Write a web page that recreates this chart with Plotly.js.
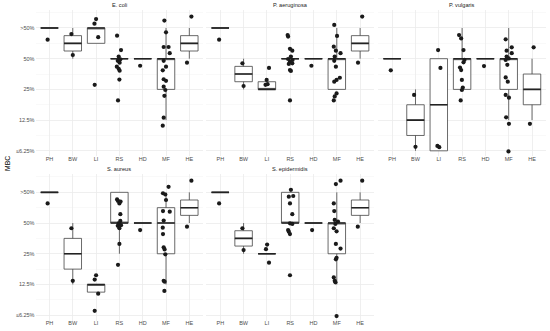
<!DOCTYPE html>
<html>
<head>
<meta charset="utf-8">
<script src="https://cdn.plot.ly/plotly-3.0.1.min.js"></script>
<style>html,body{margin:0;padding:0;background:#fff;}#chart{width:550px;height:331px;}</style>
</head>
<body>
<div id="chart"></div>
<script>
// ---------- data ----------
const categories = ['PH','BW','LI','RS','HD','MF','HE'];
const panelNames = ['E. coli','P. aeruginosa','P. vulgaris','S. aureus','S. epidermidis'];
const levelValues = [1,2,3,4,5];
const levelLabels = ['\u22646.25%','12.5%','25%','50%','>50%'];

// Observed (jittered) MBC points, one list per category (PH, BW, LI, RS, HD, MF, HE)
const ecoli_y = [
  [4.62],
  [4.80,4.12],
  [5.29,5.14,4.70,3.15],
  [4.75,4.28,4.07,3.98,3.93,3.87,3.74,3.67,3.61,3.32,2.64],
  [3.77],
  [5.24,4.86,4.38,4.38,4.18,3.93,3.74,3.62,3.33,3.28,3.09,2.98,2.79,2.08,1.82],
  [5.37,3.87]
];
const ecoli_dx = [
  [-0.08],
  [-0.06,0.00],
  [0.00,-0.07,0.09,-0.06],
  [-0.10,0.07,-0.03,0.04,-0.07,0.01,-0.11,-0.03,0.01,0.00,-0.06],
  [-0.11],
  [-0.07,0.00,-0.10,0.11,0.16,-0.10,0.00,-0.14,-0.10,0.00,-0.10,-0.03,-0.07,-0.10,-0.14],
  [0.09,-0.10]
];
const paer_y = [
  [4.62],
  [3.85,3.11],
  [3.70,3.31,3.15,3.17],
  [4.77,4.72,4.32,4.26,4.07,3.99,3.96,3.90,3.83,3.85,3.63,3.60,2.64],
  [3.77],
  [5.10,4.74,4.39,4.26,4.18,4.07,3.93,3.74,3.38,3.31,3.25,2.87,2.77,2.64],
  [5.37,3.87]
];
const paer_dx = [
  [-0.05],
  [-0.05,0.00],
  [0.09,-0.01,-0.06,0.03],
  [-0.11,-0.09,-0.01,0.09,0.03,-0.09,0.10,-0.01,-0.06,0.09,-0.01,0.03,-0.01],
  [-0.09],
  [-0.11,0.01,-0.13,-0.04,0.16,-0.09,-0.11,-0.04,0.13,-0.01,-0.11,-0.01,-0.09,-0.13],
  [0.09,-0.09]
];
const pvul_y = [
  [3.62],
  [2.82,1.13],
  [4.28,3.70,1.16,1.12],
  [4.77,4.66,4.28,3.96,3.88,3.71,3.63,3.31,3.06,2.98,2.64],
  [3.76],
  [4.63,4.37,4.26,4.18,4.07,4.01,3.96,3.80,3.39,3.25,2.82,2.73,2.09,1.88,0.98],
  [4.37,1.88]
];
const pvul_dx = [
  [-0.06],
  [-0.06,0.00],
  [-0.03,0.07,-0.06,0.02],
  [-0.13,-0.04,0.06,0.10,0.06,-0.09,-0.04,-0.01,0.03,-0.01,-0.06],
  [-0.06],
  [-0.13,0.13,-0.09,0.13,-0.09,0.00,-0.13,-0.06,-0.13,-0.04,-0.13,0.01,-0.11,0.01,-0.01],
  [0.07,-0.09]
];
const saur_y = [
  [4.64],
  [3.83,2.12],
  [2.30,2.16,1.70,1.14],
  [4.77,4.72,4.64,4.70,4.29,4.07,3.99,3.91,3.93,3.83,3.32,2.64],
  [3.77],
  [5.18,4.97,4.93,4.75,4.39,4.37,4.08,3.85,3.64,3.21,3.14,2.98,2.12,2.09,1.79],
  [5.38,3.88]
];
const saur_dx = [
  [-0.08],
  [-0.06,0.00],
  [0.00,-0.06,0.09,-0.06],
  [-0.10,-0.06,0.00,0.05,0.04,0.04,-0.03,-0.07,0.07,0.00,0.00,-0.06],
  [-0.11],
  [0.11,-0.13,-0.03,0.00,-0.13,0.16,-0.10,-0.14,-0.13,-0.10,-0.06,-0.03,-0.10,-0.06,-0.07],
  [0.09,-0.10]
];
const sepi_y = [
  [4.64],
  [3.83,3.12],
  [3.30,3.15,2.71],
  [5.08,4.88,4.86,4.64,4.29,3.99,3.97,3.77,3.72,3.64,2.30],
  [3.77],
  [5.27,5.38,4.64,4.39,4.10,4.05,3.97,3.83,3.73,3.32,3.17,2.87,2.82,2.23,2.12,2.07,0.97],
  [5.38,3.88]
];
const sepi_dx = [
  [-0.05],
  [-0.05,0.00],
  [0.01,-0.04,0.09],
  [0.03,0.13,-0.06,-0.01,0.09,-0.01,0.09,-0.09,-0.06,-0.01,-0.01],
  [-0.06],
  [-0.04,0.16,-0.13,-0.11,-0.09,0.05,-0.06,-0.13,-0.01,-0.04,0.16,-0.01,-0.04,-0.13,-0.09,-0.06,-0.01],
  [0.09,-0.10]
];

const panelY = [ecoli_y, paer_y, pvul_y, saur_y, sepi_y];
const panelDX = [ecoli_dx, paer_dx, pvul_dx, saur_dx, sepi_dx];

// ---------- stats (R type-7 quantiles on underlying levels) ----------
function quant(sorted, p){
  const h = (sorted.length-1)*p, lo = Math.floor(h), hi = Math.ceil(h);
  return sorted[lo] + (h-lo)*(sorted[hi]-sorted[lo]);
}
function boxStats(vals){
  const s = vals.map(v=>Math.round(v)).sort((a,b)=>a-b);
  const q1 = quant(s,0.25), med = quant(s,0.5), q3 = quant(s,0.75);
  const iqr = q3-q1;
  const inside = s.filter(v=>v>=q1-1.5*iqr && v<=q3+1.5*iqr);
  let lo = Math.min(...inside), hi = Math.max(...inside);
  lo = Math.min(lo,q1); hi = Math.max(hi,q3);
  return {q1, med, q3, lo, hi};
}

// ---------- layout geometry ----------
const W = 550, H = 331;
const colLeft = [35.5, 206.3, 378.2];
const panelW = 167.8;
const rowTop = [9.55, 173.9];
const panelH = 146.8;
const yRange = [0.82, 5.6];

const traces = [];
const layout = {
  width: W, height: H,
  margin: {l:0, r:0, t:0, b:0},
  paper_bgcolor: '#ffffff', plot_bgcolor: '#ffffff',
  showlegend: false,
  font: {family: '"Liberation Sans", Arial, sans-serif', color: '#4D4D4D'},
  annotations: []
};

panelNames.forEach((name, i) => {
  const col = i % 3, row = Math.floor(i / 3);
  const k = i === 0 ? '' : String(i+1);
  const xa = 'x'+k, ya = 'y'+k;
  const x0 = colLeft[col], y0 = rowTop[row];
  layout['xaxis'+k] = {
    domain: [x0/W, (x0+panelW)/W], anchor: ya,
    range: [0.4, 7.6], tickmode: 'array',
    tickvals: categories.map((c,j)=>j+1), ticktext: categories,
    showgrid: true, gridcolor: '#EBEBEB', gridwidth: 0.8,
    zeroline: false, showline: false, ticks: '', ticklabelstandoff: -2,
    tickfont: {size: 5.5, color: '#4D4D4D'}, automargin: false, fixedrange: true
  };
  layout['yaxis'+k] = {
    domain: [1-(y0+panelH)/H, 1-y0/H], anchor: xa,
    range: yRange, tickmode: 'array', tickvals: levelValues, ticktext: levelLabels,
    showticklabels: col === 0,
    showgrid: true, gridcolor: '#EBEBEB', gridwidth: 0.8,
    minor: {tickmode: 'array', tickvals: [1.5,2.5,3.5,4.5,5.5], showgrid: true, gridcolor: '#F4F4F4', gridwidth: 0.5, ticks: ''},
    zeroline: false, showline: false, ticks: '',
    tickfont: {size: 5.5, color: '#4D4D4D'}, automargin: false, fixedrange: true
  };
  layout.annotations.push({
    xref: 'paper', yref: 'paper', x: (x0+panelW/2)/W, y: 1-(y0-4.5)/H,
    xanchor: 'center', yanchor: 'middle', showarrow: false,
    text: name, font: {size: 5.6, color: '#1A1A1A'}
  });

  const ys = panelY[i], dxs = panelDX[i];
  const stats = ys.map(boxStats);
  const pos = categories.map((c,j)=>j+1);
  traces.push({
    type: 'box', xaxis: xa, yaxis: ya,
    x: pos,
    q1: stats.map(s=>s.q1), median: stats.map(s=>s.med), q3: stats.map(s=>s.q3),
    lowerfence: stats.map(s=>s.lo), upperfence: stats.map(s=>s.hi),
    width: 0.75, whiskerwidth: 0, boxpoints: false,
    line: {color: '#444444', width: 0.8}, fillcolor: '#ffffff',
    hoverinfo: 'skip'
  });
  // thicker median segments
  const mx = [], my = [];
  stats.forEach((s,j)=>{ mx.push(pos[j]-0.375, pos[j]+0.375, null); my.push(s.med, s.med, null); });
  traces.push({
    type: 'scatter', mode: 'lines', xaxis: xa, yaxis: ya,
    x: mx, y: my, line: {color: '#222222', width: 1.6}, hoverinfo: 'skip'
  });
  // jittered points
  const px = [], py = [];
  ys.forEach((arr,j)=>arr.forEach((v,m)=>{ px.push(pos[j]+dxs[j][m]); py.push(v); }));
  traces.push({
    type: 'scatter', mode: 'markers', xaxis: xa, yaxis: ya,
    x: px, y: py, marker: {size: 4.2, color: '#1a1a1a'}, hoverinfo: 'skip'
  });
});

layout.annotations.push({
  xref: 'paper', yref: 'paper', x: 7/W, y: 1-164/H,
  xanchor: 'center', yanchor: 'middle', showarrow: false, textangle: -90,
  text: 'MBC', font: {size: 6.8, color: '#000000'}
});

Plotly.newPlot('chart', traces, layout, {staticPlot: true, displayModeBar: false});
</script>
</body>
</html>
